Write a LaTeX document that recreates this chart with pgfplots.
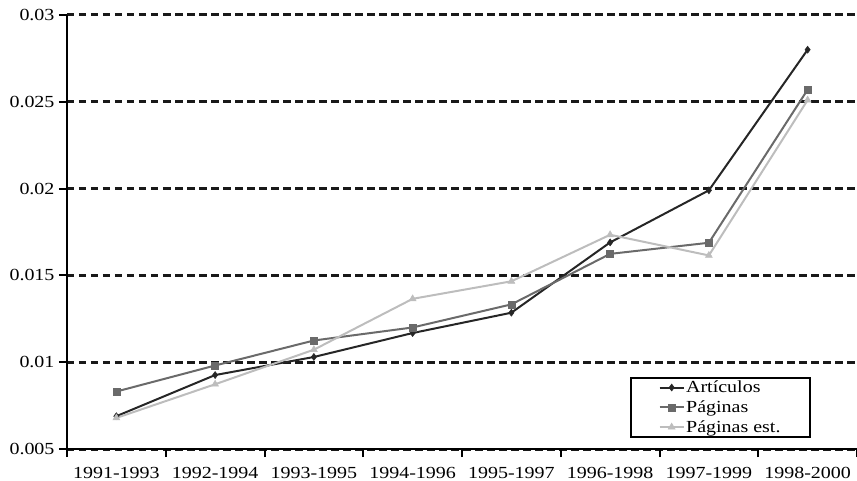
\documentclass[border=0pt]{standalone}
\usepackage{pgfplots}
\pgfplotsset{compat=1.18}
\usepackage{fontspec}
\setmainfont{Liberation Serif}[FakeStretch=1.18]
\definecolor{cA}{HTML}{262626}
\definecolor{cB}{HTML}{6A6A6A}
\definecolor{cC}{HTML}{BDBDBD}
\begin{document}
\begin{tikzpicture}
\useasboundingbox (-67bp,-32bp) rectangle (790bp,449bp);
\begin{axis}[
  at={(0,0)}, anchor=south west,
  scale only axis, width=790bp, height=434bp,
  xmin=-0.5, xmax=7.5, ymin=0.005, ymax=0.03,
  axis x line*=bottom, axis y line*=left,
  axis line style={line width=2.5bp, black},
  xtick={-0.5,0.5,...,7.5},
  x tick label as interval,
  xticklabels={1991-1993,1992-1994,1993-1995,1994-1996,1995-1997,1996-1998,1997-1999,1998-2000},
  ytick={0.005,0.01,0.015,0.02,0.025,0.03},
  yticklabels={0.005,0.01,0.015,0.02,0.025,0.03},
  scaled y ticks=false,
  /pgf/number format/assume math mode=true,
  tick align=outside, major tick length=8bp,
  tick style={line width=2bp, black},
  tick label style={font=\fontsize{17}{20}\selectfont, black},
  xticklabel style={inner sep=0pt, text depth=0pt, yshift=-10bp},
  yticklabel style={xshift=-1bp},
  ymajorgrids,
  major grid style={line width=3bp, dash pattern=on 7.5bp off 4.5bp, black!90},
  legend style={at={(0.9418,0.026)}, anchor=south east, draw=black, line width=2bp,
    fill=white, font=\fontsize{17}{20}\selectfont, inner xsep=28bp, inner ysep=1.5bp,
    nodes={inner sep=1.5bp}, row sep=3.5bp},
  legend cell align=left,
  legend image code/.code={\draw[mark repeat=2,mark phase=2] plot coordinates {(0bp,0bp) (12bp,0bp) (24bp,0bp)};},
]
\addplot[cA, line width=2bp, mark=diamond*, mark size=3.5bp, mark options={solid, fill=cA, draw=cA, line width=0.5bp}]
 coordinates {(0,0.00689) (1,0.00926) (2,0.0103) (3,0.01168) (4,0.01285) (5,0.0169) (6,0.0199) (7,0.0280)};
\addlegendentry{Artículos}
\addplot[cB, line width=2bp, mark=square*, mark size=3.5bp, mark options={solid, fill=cB, draw=cB, line width=0.5bp}]
 coordinates {(0,0.00831) (1,0.00981) (2,0.01125) (3,0.0120) (4,0.01333) (5,0.01624) (6,0.01688) (7,0.0257)};
\addlegendentry{Páginas}
\addplot[cC, line width=2bp, mark=triangle*, mark size=4bp, mark options={solid, fill=cC, draw=cC, line width=0.5bp}]
 coordinates {(0,0.00679) (1,0.00873) (2,0.01072) (3,0.01365) (4,0.01466) (5,0.01734) (6,0.01615) (7,0.0251)};
\addlegendentry{Páginas est.}
\end{axis}
\end{tikzpicture}
\end{document}
